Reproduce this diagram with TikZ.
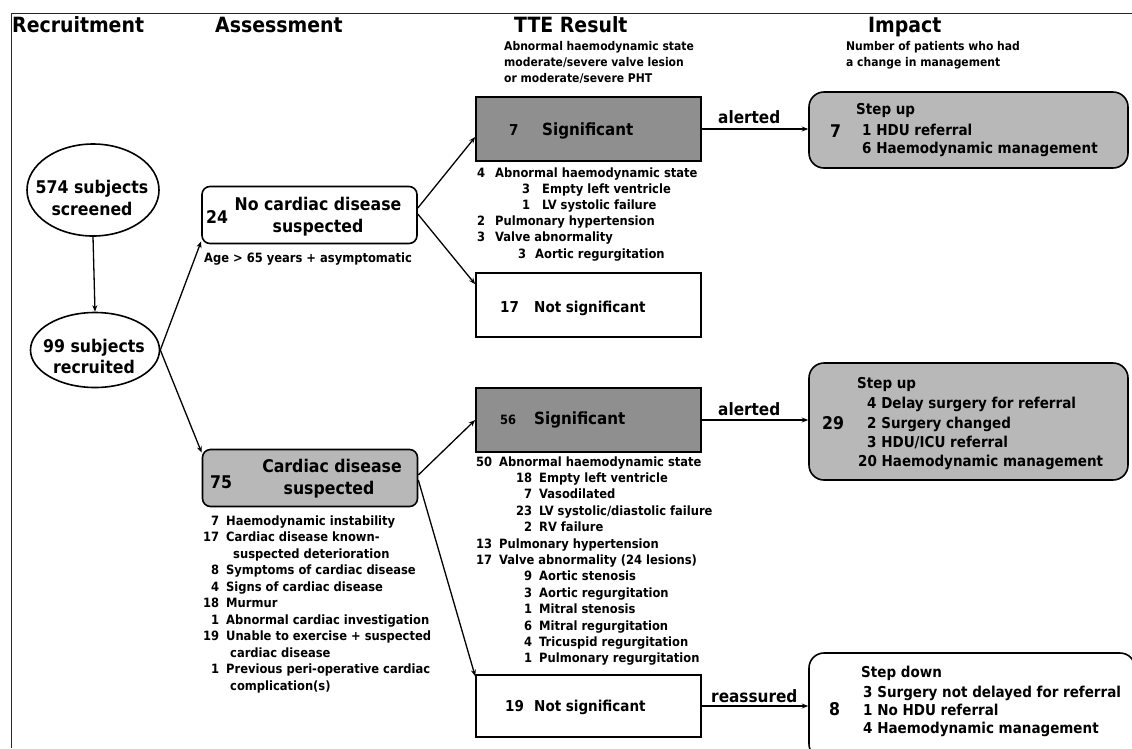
\documentclass[tikz,border=0pt]{standalone}
\usepackage{fontspec}
\setmainfont{DejaVu Sans Condensed}
\usetikzlibrary{shapes.geometric,arrows.meta}
\definecolor{sig}{gray}{0.56}
\definecolor{lite}{gray}{0.72}
\begin{document}
\begin{tikzpicture}[x=1pt,y=-1pt,
  hdr/.style={anchor=base west,inner sep=0,font=\fontsize{21}{25}\selectfont\bfseries},
  sub/.style={anchor=base west,inner sep=0,font=\fontsize{12}{15}\selectfont\bfseries},
  lst/.style={anchor=base west,inner sep=0,font=\fontsize{12.8}{15}\selectfont\bfseries},
  big/.style={anchor=base,inner sep=0,font=\fontsize{17.5}{20}\selectfont\bfseries},
  bigw/.style={anchor=base west,inner sep=0,font=\fontsize{17.5}{20}\selectfont\bfseries},
  mid/.style={anchor=base west,inner sep=0,font=\fontsize{16.8}{20}\selectfont\bfseries},
  num/.style={anchor=base west,inner sep=0,font=\fontsize{15}{18}\selectfont\bfseries},
  imp/.style={anchor=base west,inner sep=0,font=\fontsize{15}{18}\selectfont\bfseries},
  lab/.style={anchor=base west,inner sep=0,font=\fontsize{17}{20}\selectfont\bfseries},
  sbox/.style={draw,line width=1.6pt,minimum width=225pt,minimum height=64pt,inner sep=0},
  rbox/.style={draw,line width=1.6pt,rounded corners=8pt,inner sep=0,minimum width=215pt,minimum height=57pt},
  ibox/.style={draw,line width=1.6pt,rounded corners=15pt,inner sep=0,minimum width=319pt},
  ell/.style={draw,ellipse,line width=1.6pt,inner sep=0},
  arr/.style={line width=1.3pt,-{Stealth[length=6.5pt,width=5pt]}},
  frame/.style={line width=0.9pt,draw=black!85}]
\useasboundingbox (0,0) rectangle (1132,748);
\clip (0,0) rectangle (1132,748);
% frame
\draw[frame] (11,13) -- (1132,13);
\draw[frame] (11,13) -- (11,748);
% headers
\node[hdr] (hRec) at (12,32) {Recruitment};
\node[hdr] (hAss) at (215,32) {Assessment};
\node[hdr] (hTTE) at (514,32) {TTE Result};
\node[hdr] (hImp) at (868,32) {Impact};
\node[sub] (sT1) at (504,50) {Abnormal haemodynamic state};
\node[sub] (sT2) at (504,66) {moderate/severe valve lesion};
\node[sub] (sT3) at (504,82) {or moderate/severe PHT};
\node[sub] (sI1) at (846,50) {Number of patients who had};
\node[sub] (sI2) at (846,66) {a change in management};
% recruitment
\node[ell,minimum width=132pt,minimum height=92pt] (scr) at (93,190) {};
\node[big] (scrA) at (92,193) {574 subjects};
\node[big] (scrB) at (92,215) {screened};
\node[ell,minimum width=129pt,minimum height=75pt] (rec) at (95,350) {};
\node[big] (recA) at (94,352) {99 subjects};
\node[big] (recB) at (94,373) {recruited};
% assessment
\node[rbox] (b24) at (309.5,215) {};
\node[bigw] (b24n) at (206,223) {24};
\node[big] (b24a) at (318,210) {No cardiac disease};
\node[big] (b24b) at (318,232) {suspected};
\node[lst] (age) at (204,262) {Age > 65 years + asymptomatic};
\node[rbox,fill=lite] (b75) at (310,478) {};
\node[bigw] (b75n) at (210,488) {75};
\node[big] (b75a) at (332,472) {Cardiac disease};
\node[big] (b75b) at (329,494) {suspected};
\node[lst] (c1) at (202,525) {\makebox[17pt][r]{7}\hspace{7pt}Haemodynamic instability};
\node[lst] (c2) at (202,541.5) {\makebox[17pt][r]{17}\hspace{7pt}Cardiac disease known-};
\node[lst] (c3) at (233,558) {suspected deterioration};
\node[lst] (c4) at (202,574.5) {\makebox[17pt][r]{8}\hspace{7pt}Symptoms of cardiac disease};
\node[lst] (c5) at (202,591) {\makebox[17pt][r]{4}\hspace{7pt}Signs of cardiac disease};
\node[lst] (c6) at (202,607.5) {\makebox[17pt][r]{18}\hspace{7pt}Murmur};
\node[lst] (c7) at (202,624) {\makebox[17pt][r]{1}\hspace{7pt}Abnormal cardiac investigation};
\node[lst] (c8) at (202,640.5) {\makebox[17pt][r]{19}\hspace{7pt}Unable to exercise + suspected};
\node[lst] (c9) at (230,657) {cardiac disease};
\node[lst] (c10) at (202,673.5) {\makebox[17pt][r]{1}\hspace{7pt}Previous peri-operative cardiac};
\node[lst] (c11) at (230,690) {complication(s)};
% TTE results, upper
\node[sbox,fill=sig] (sig7) at (588.5,129) {};
\node[num] (sig7n) at (509,135) {7};
\node[mid] (sig7t) at (542,135) {Significant};
\node[lst] (t1) at (477,177) {\makebox[8pt][r]{4}\hspace{10pt}Abnormal haemodynamic state};
\node[lst] (t2) at (522,193.2) {\makebox[8pt][r]{3}\hspace{12pt}Empty left ventricle};
\node[lst] (t3) at (522,209.4) {\makebox[8pt][r]{1}\hspace{12pt}LV systolic failure};
\node[lst] (t4) at (477,225.6) {\makebox[8pt][r]{2}\hspace{10pt}Pulmonary hypertension};
\node[lst] (t5) at (477,241.8) {\makebox[8pt][r]{3}\hspace{10pt}Valve abnormality};
\node[lst] (t6) at (518,258) {\makebox[8pt][r]{3}\hspace{9pt}Aortic regurgitation};
\node[sbox] (ns17) at (588.5,305) {};
\node[num] (ns17n) at (500,312) {17};
\node[num] (ns17t) at (534,312) {Not significant};
% TTE results, lower
\node[sbox,fill=sig] (sig56) at (588.5,420) {};
\node[lst] (sig56n) at (500,424) {56};
\node[mid] (sig56t) at (534,424) {Significant};
\node[lst] (u1) at (475,466) {\makebox[17pt][r]{50}\hspace{7pt}Abnormal haemodynamic state};
\node[lst] (u2) at (515,482.4) {\makebox[17pt][r]{18}\hspace{7pt}Empty left ventricle};
\node[lst] (u3) at (515,498.8) {\makebox[17pt][r]{7}\hspace{7pt}Vasodilated};
\node[lst] (u4) at (515,515.2) {\makebox[17pt][r]{23}\hspace{7pt}LV systolic/diastolic failure};
\node[lst] (u5) at (515,531.6) {\makebox[17pt][r]{2}\hspace{7pt}RV failure};
\node[lst] (u6) at (475,548) {\makebox[17pt][r]{13}\hspace{7pt}Pulmonary hypertension};
\node[lst] (u7) at (475,564.4) {\makebox[17pt][r]{17}\hspace{7pt}Valve abnormality (24 lesions)};
\node[lst] (u8) at (515,580.8) {\makebox[17pt][r]{9}\hspace{7pt}Aortic stenosis};
\node[lst] (u9) at (515,597.2) {\makebox[17pt][r]{3}\hspace{7pt}Aortic regurgitation};
\node[lst] (u10) at (515,613.6) {\makebox[17pt][r]{1}\hspace{7pt}Mitral stenosis};
\node[lst] (u11) at (515,630) {\makebox[17pt][r]{6}\hspace{7pt}Mitral regurgitation};
\node[lst] (u12) at (515,646.4) {\makebox[17pt][r]{4}\hspace{7pt}Tricuspid regurgitation};
\node[lst] (u13) at (515,662.8) {\makebox[17pt][r]{1}\hspace{7pt}Pulmonary regurgitation};
\node[sbox,minimum height=62pt] (ns19) at (588.5,706) {};
\node[num] (ns19n) at (505,711) {19};
\node[num] (ns19t) at (534,711) {Not significant};
% impact
\node[ibox,fill=lite,minimum height=76pt] (I1) at (968.5,130) {};
\node[bigw] (I1n) at (830,137) {7};
\node[imp] (I1a) at (856,114) {Step up};
\node[imp] (I1b) at (862,135) {1 HDU referral};
\node[imp] (I1c) at (862,153) {6 Haemodynamic management};
\node[ibox,fill=lite,minimum height=117pt] (I2) at (968.5,421.5) {};
\node[bigw] (I2n) at (822,429) {29};
\node[imp] (I2a) at (857,388) {Step up};
\node[imp] (I2b) at (867,408) {4 Delay surgery for referral};
\node[imp] (I2c) at (867,428) {2 Surgery changed};
\node[imp] (I2d) at (867,447) {3 HDU/ICU referral};
\node[imp] (I2e) at (858,466) {20 Haemodynamic management};
\node[ibox,minimum width=326pt,minimum height=106pt] (I3) at (972,706) {};
\node[bigw] (I3n) at (829,715) {8};
\node[imp] (I3a) at (861,677) {Step down};
\node[imp] (I3b) at (863,697) {3 Surgery not delayed for referral};
\node[imp] (I3c) at (863,715) {1 No HDU referral};
\node[imp] (I3d) at (863,733) {4 Haemodynamic management};
% connectors
\draw[arr] (scr.south) -- (rec.north);
\draw[arr] (rec.east) -- ([yshift=3pt]b24.south west);
\draw[arr] (rec.east) -- ([yshift=-4pt]b75.north west);
\draw[arr] ([yshift=7pt]b24.east) -- ([yshift=-8pt]sig7.west);
\draw[arr] ([yshift=1pt]b24.east) -- ([yshift=-12pt]ns17.north west);
\draw[arr] ([yshift=3pt]b75.east) -- (sig56.west);
\draw[arr] ([yshift=-2pt]b75.east) -- ([yshift=-2pt]ns19.north west);
\draw[arr] (sig7.east) -- (sig7.east -| I1.west);
\draw[arr] (sig56.east) -- (sig56.east -| I2.west);
\draw[arr] (ns19.east) -- (ns19.east -| I3.west);
\node[lab] (al1) at (718,123) {alerted};
\node[lab] (al2) at (718,415) {alerted};
\node[lab] (re1) at (711,702) {reassured};
\end{tikzpicture}
\end{document}
